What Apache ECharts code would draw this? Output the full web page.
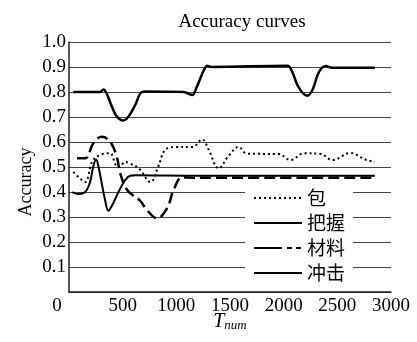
<!DOCTYPE html>
<html><head><meta charset="utf-8">
<script src="https://cdn.jsdelivr.net/npm/echarts@6/dist/echarts.min.js"></script>
<style>html,body{margin:0;padding:0;background:#fff}#c{width:417px;height:342px}</style>
</head><body><div id="c"></div>
<script>
const seriesNames = ['包', '把握', '材料', '冲击'];
const xTicks = [0, 500, 1000, 1500, 2000, 2500, 3000];
const yTicks = [0.1, 0.2, 0.3, 0.4, 0.5, 0.6, 0.7, 0.8, 0.9, 1.0];
// [T_num, accuracy]
const bao = [[40,0.48],[100,0.455],[150,0.44],[220,0.525],[300,0.55],[380,0.555],[440,0.505],[470,0.50],[520,0.52],[560,0.515],[650,0.495],[760,0.44],[830,0.50],[900,0.57],[1000,0.58],[1150,0.58],[1240,0.61],[1300,0.57],[1395,0.495],[1480,0.54],[1580,0.58],[1660,0.553],[1950,0.552],[2065,0.528],[2190,0.555],[2340,0.553],[2455,0.528],[2620,0.556],[2760,0.53],[2850,0.52]];
const bawo = [[30,0.40],[80,0.392],[150,0.40],[196,0.44],[225,0.50],[252,0.53],[280,0.49],[305,0.435],[335,0.37],[367,0.325],[400,0.345],[461,0.40],[520,0.445],[570,0.465],[620,0.467],[1200,0.465],[2850,0.465]];
const cailiao = [[75,0.535],[150,0.535],[227,0.595],[305,0.621],[383,0.601],[445,0.541],[477,0.475],[539,0.41],[600,0.385],[663,0.365],[726,0.328],[820,0.295],[913,0.335],[975,0.408],[1053,0.458],[1150,0.457],[2850,0.457]];
const chongji = [[40,0.80],[290,0.80],[320,0.81],[350,0.795],[400,0.741],[450,0.70],[508,0.686],[560,0.705],[617,0.748],[679,0.80],[720,0.802],[1068,0.80],[1146,0.788],[1190,0.82],[1224,0.855],[1260,0.89],[1287,0.905],[1330,0.9],[2035,0.905],[2080,0.88],[2128,0.828],[2180,0.795],[2221,0.785],[2270,0.81],[2330,0.881],[2393,0.904],[2450,0.897],[2850,0.897]];

const serif = 'Liberation Serif';
const chart = echarts.init(document.getElementById('c'), null, {renderer: 'canvas'});
chart.setOption({
  animation: false,
  backgroundColor: '#fff',
  title: {
    text: 'Accuracy curves', left: 237, top: 8, textAlign: 'center',
    textStyle: {fontFamily: serif, fontSize: 19, fontWeight: 'normal', color: '#000'}
  },
  grid: {left: 69, right: 26, top: 42, bottom: 50, outerBoundsMode: 'none', containLabel: false},
  legend: {
    left: 245, top: 183, orient: 'vertical', backgroundColor: '#fff', padding: [5, 8, 5, 8],
    itemWidth: 48, itemHeight: 14, itemGap: 5,
    itemStyle: {opacity: 0},
    textStyle: {fontFamily: 'Noto Sans CJK SC', fontSize: 19, lineHeight: 20, color: '#000'},
    data: [
      {name: seriesNames[0]},
      {name: seriesNames[1]},
      {name: seriesNames[2], lineStyle: {type: [28, 5, 5, 4, 5, 4]}},
      {name: seriesNames[3]}
    ]
  },
  xAxis: {
    type: 'value', min: 0, max: 3000, interval: 500,
    axisLine: {show: true, lineStyle: {color: '#222', width: 1.5}},
    axisTick: {show: false}, splitLine: {show: false},
    axisLabel: {
      margin: 5, color: '#000', fontFamily: serif, fontSize: 19,
      formatter: v => v === 0 ? '{z|0}' : String(v),
      rich: {z: {fontFamily: serif, fontSize: 19, color: '#000', padding: [0, 24, 0, 0]}}
    },
    name: '{t|T}{s|num}', nameLocation: 'middle', nameGap: 20, nameMoveOverlap: false,
    nameTextStyle: {
      rich: {
        t: {fontFamily: serif, fontStyle: 'italic', fontSize: 20, color: '#000', lineHeight: 20, verticalAlign: 'top'},
        s: {fontFamily: serif, fontStyle: 'italic', fontSize: 13, color: '#000', lineHeight: 13, padding: [15, 0, 0, 0], verticalAlign: 'bottom'}
      }
    }
  },
  yAxis: {
    type: 'value', min: 0, max: 1, interval: 0.1,
    axisLine: {show: true, lineStyle: {color: '#222', width: 1.5}},
    axisTick: {show: false},
    splitLine: {show: true, lineStyle: {color: '#444', width: 1}},
    axisLabel: {
      margin: 3, color: '#000', fontFamily: serif, fontSize: 19,
      formatter: v => (v < 0.05 ? '' : v.toFixed(1))
    },
    name: 'Accuracy', nameLocation: 'middle', nameGap: 34, nameMoveOverlap: false,
    nameTextStyle: {fontFamily: serif, fontSize: 18, color: '#000', padding: [0, 30, 0, 0]}
  },
  series: [
    {name: seriesNames[0], type: 'line', data: bao, smooth: 0.4, symbol: 'none',
     lineStyle: {color: '#000', width: 2, type: [2, 3]}, z: 3},
    {name: seriesNames[1], type: 'line', data: bawo, smooth: 0.4, symbol: 'none',
     lineStyle: {color: '#000', width: 2, type: 'solid'}, z: 4},
    {name: seriesNames[2], type: 'line', data: cailiao, smooth: 0.4, symbol: 'none',
     lineStyle: {color: '#000', width: 2.5, type: [11, 5]}, z: 3},
    {name: seriesNames[3], type: 'line', data: chongji, smooth: 0.4, symbol: 'none',
     lineStyle: {color: '#000', width: 2.5, type: 'solid'}, z: 4}
  ]
});
</script></body></html>
